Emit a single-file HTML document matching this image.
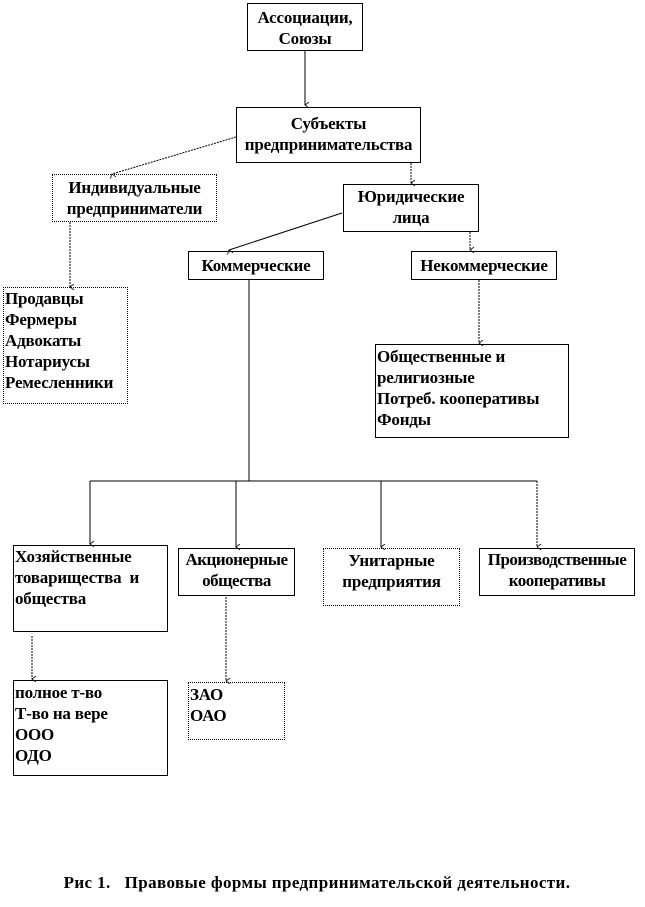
<!DOCTYPE html>
<html><head><meta charset="utf-8"><style>
body{margin:0;background:#fff;width:645px;height:907px;position:relative;overflow:hidden;font-family:"Liberation Serif",serif;font-weight:bold;font-size:17px;color:#000;letter-spacing:-0.2px}
.b{position:absolute;border:1px solid #000;box-sizing:border-box;line-height:21px;white-space:nowrap}
.c{text-align:center}
.l{text-align:left;padding-left:1px}
svg{position:absolute;left:0;top:0}
</style></head><body>
<svg width="645" height="907">
<defs><marker id="a" markerWidth="6" markerHeight="6" refX="3" refY="5" orient="auto"><path d="M0,1 L3,5 L6,1" fill="none" stroke="#000" stroke-width="0.8"/></marker></defs>
<g stroke="#000" stroke-width="1" fill="none">
<line x1="305" y1="51" x2="305" y2="105" marker-end="url(#a)"/>
<line x1="236" y1="137" x2="112" y2="174" stroke-dasharray="2,1" marker-end="url(#a)"/>
<line x1="411" y1="163" x2="411" y2="183" stroke-dasharray="2,1" marker-end="url(#a)"/>
<line x1="342" y1="213" x2="229" y2="250" marker-end="url(#a)"/>
<line x1="470" y1="232" x2="470" y2="250" stroke-dasharray="2,1" marker-end="url(#a)"/>
<line x1="70" y1="222" x2="70" y2="287" stroke-dasharray="2,1" marker-end="url(#a)"/>
<line x1="249" y1="280" x2="249" y2="481"/>
<line x1="479" y1="280" x2="479" y2="343" stroke-dasharray="2,1" marker-end="url(#a)"/>
<line x1="90" y1="481" x2="537" y2="481"/>
<line x1="90" y1="481" x2="90" y2="544" marker-end="url(#a)"/>
<line x1="236" y1="481" x2="236" y2="547" marker-end="url(#a)"/>
<line x1="381" y1="481" x2="381" y2="547" marker-end="url(#a)"/>
<line x1="537" y1="481" x2="537" y2="547" stroke-dasharray="2,1" marker-end="url(#a)"/>
<line x1="32" y1="636" x2="32" y2="679" stroke-dasharray="2,1" marker-end="url(#a)"/>
<line x1="226" y1="597" x2="226" y2="681" stroke-dasharray="2,1" marker-end="url(#a)"/>
</g></svg>
<div class="b c" style="left:247px;top:3px;width:116px;height:48px;padding-top:3px">Ассоциации,<br>Союзы</div>
<div class="b c" style="left:236px;top:107px;width:185px;height:56px;padding-top:5px">Субъекты<br>предпринимательства</div>
<div class="b c" style="left:52px;top:174px;width:165px;height:48px;padding-top:2px;border-style:dotted">Индивидуальные<br>предприниматели</div>
<div class="b c" style="left:343px;top:184px;width:136px;height:48px;padding-top:1px">Юридические<br>лица</div>
<div class="b c" style="left:188px;top:251px;width:136px;height:29px;padding-top:3px">Коммерческие</div>
<div class="b c" style="left:411px;top:251px;width:146px;height:29px;padding-top:3px">Некоммерческие</div>
<div class="b l" style="left:3px;top:287px;width:125px;height:117px;border-style:dotted">Продавцы<br>Фермеры<br>Адвокаты<br>Нотариусы<br>Ремесленники</div>
<div class="b l" style="left:375px;top:344px;width:194px;height:94px;padding-top:1px">Общественные и<br>религиозные<br>Потреб. кооперативы<br>Фонды</div>
<div class="b l" style="left:13px;top:545px;width:155px;height:87px">Хозяйственные<br>товарищества&nbsp; и<br>общества</div>
<div class="b c" style="left:178px;top:548px;width:117px;height:48px;letter-spacing:-0.5px">Акционерные<br>общества</div>
<div class="b c" style="left:323px;top:548px;width:137px;height:58px;padding-top:1px;border-style:dotted">Унитарные<br>предприятия</div>
<div class="b c" style="left:479px;top:548px;width:156px;height:48px;letter-spacing:-0.5px">Производственные<br>кооперативы</div>
<div class="b l" style="left:13px;top:680px;width:155px;height:96px;padding-top:1px">полное т-во<br>Т-во на вере<br>ООО<br>ОДО</div>
<div class="b l" style="left:188px;top:682px;width:97px;height:58px;padding-top:1px;border-style:dotted">ЗАО<br>ОАО</div>
<div style="position:absolute;left:0;width:634px;top:873px;text-align:center;font-size:17px;letter-spacing:0.4px;white-space:nowrap">Рис 1.&nbsp;&nbsp; Правовые формы предпринимательской деятельности.</div>
</body></html>
